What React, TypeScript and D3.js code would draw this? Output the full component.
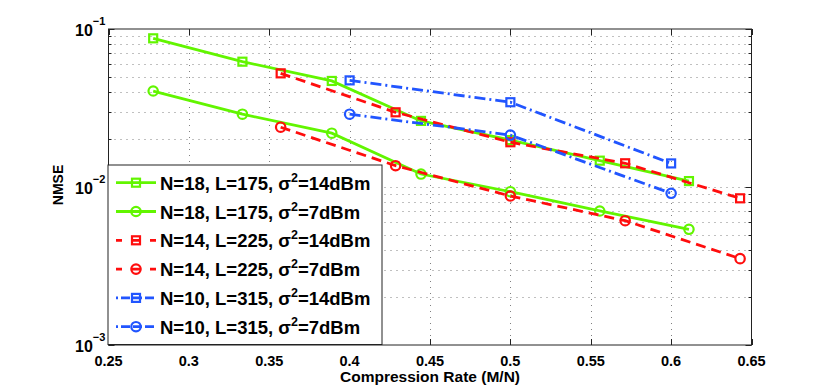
import React from "react";
import * as d3 from "d3";

const xTicks = [0.25, 0.3, 0.35, 0.4, 0.45, 0.5, 0.55, 0.6, 0.65];
const yDecades = [-3, -2, -1];

const rateN18 = [0.2778, 0.3333, 0.3889, 0.4444, 0.5, 0.5556, 0.6111];
const rateN14 = [0.3571, 0.4286, 0.5, 0.5714, 0.6429];
const rateN10 = [0.4, 0.5, 0.6];

const nmseN18_14 = [0.0873, 0.0621, 0.0469, 0.0262, 0.0198, 0.01468, 0.0109];
const nmseN18_7 = [0.0405, 0.0289, 0.0219, 0.01208, 0.00934, 0.00705, 0.0054];
const nmseN14_14 = [0.0524, 0.0297, 0.0192, 0.01413, 0.00848];
const nmseN14_7 = [0.0239, 0.01364, 0.00877, 0.00612, 0.00352];
const nmseN10_14 = [0.0473, 0.0344, 0.0141];
const nmseN10_7 = [0.0289, 0.0213, 0.00912];

const legendLabels = [
  ["N=18, L=175, ", "14dBm"],
  ["N=18, L=175, ", "7dBm"],
  ["N=14, L=225, ", "14dBm"],
  ["N=14, L=225, ", "7dBm"],
  ["N=10, L=315, ", "14dBm"],
  ["N=10, L=315, ", "7dBm"],
];

const GREEN = "#62f500";
const RED = "#ff0d0d";
const BLUE = "#2155ff";

type Series = {
  x: number[];
  y: number[];
  color: string;
  dash: string;
  marker: "square" | "circle";
};

const series: Series[] = [
  { x: rateN18, y: nmseN18_14, color: GREEN, dash: "none", marker: "square" },
  { x: rateN18, y: nmseN18_7, color: GREEN, dash: "none", marker: "circle" },
  { x: rateN14, y: nmseN14_14, color: RED, dash: "10 6", marker: "square" },
  { x: rateN14, y: nmseN14_7, color: RED, dash: "10 6", marker: "circle" },
  { x: rateN10, y: nmseN10_14, color: BLUE, dash: "11 4 2 4", marker: "square" },
  { x: rateN10, y: nmseN10_7, color: BLUE, dash: "11 4 2 4", marker: "circle" },
];

const L = 108.5, R = 751.5, T = 29, B = 345;
const FONT = "'Liberation Sans', Arial, Helvetica, sans-serif";

function Marker({ kind, cx, cy, color }: { kind: string; cx: number; cy: number; color: string }) {
  if (kind === "square") {
    return <rect x={cx - 4} y={cy - 4} width={8} height={8} fill="none" stroke={color} strokeWidth={2.2} />;
  }
  return <circle cx={cx} cy={cy} r={4.7} fill="none" stroke={color} strokeWidth={2.2} />;
}

export default function App() {
  const x = d3.scaleLinear().domain([0.25, 0.65]).range([L, R]);
  const y = d3.scaleLog().domain([1e-3, 1e-1]).range([B, T]);
  const line = d3
    .line<[number, number]>()
    .x((d) => x(d[0]))
    .y((d) => y(d[1]));

  const minorY: number[] = [];
  for (const e of [-3, -2]) {
    for (let k = 2; k <= 9; k++) minorY.push(k * Math.pow(10, e));
  }
  const gridY = [...minorY, 1e-2];
  const gridX = xTicks.slice(1, -1);

  const legX = 108, legY = 165, legW = 274, legH = 179.5;
  const rowY = (i: number) => 182.7 + i * 28.8;

  return (
    <svg
      width={830}
      height={389}
      style={{ position: "absolute", left: 0, top: 0, background: "#fff" }}
      fontFamily={FONT}
    >
      <rect x={0} y={0} width={830} height={389} fill="#fff" />
      {/* grid */}
      <g stroke="#808080" strokeWidth={1} strokeDasharray="1 5">
        {gridY.map((v, i) => (
          <line key={"gy" + i} x1={L} x2={R} y1={Math.round(y(v)) + 0.5} y2={Math.round(y(v)) + 0.5} />
        ))}
        {gridX.map((v, i) => (
          <line key={"gx" + i} x1={Math.round(x(v)) + 0.5} x2={Math.round(x(v)) + 0.5} y1={T} y2={B} />
        ))}
      </g>
      {/* ticks */}
      <g stroke="#222" strokeWidth={1}>
        {xTicks.map((v, i) => (
          <g key={"xt" + i}>
            <line x1={Math.round(x(v)) + 0.5} x2={Math.round(x(v)) + 0.5} y1={B} y2={B - 6} />
            <line x1={Math.round(x(v)) + 0.5} x2={Math.round(x(v)) + 0.5} y1={T} y2={T + 6} />
          </g>
        ))}
        {yDecades.map((e, i) => (
          <g key={"yt" + i}>
            <line x1={L} x2={L + 6} y1={Math.round(y(Math.pow(10, e))) + 0.5} y2={Math.round(y(Math.pow(10, e))) + 0.5} />
            <line x1={R} x2={R - 6} y1={Math.round(y(Math.pow(10, e))) + 0.5} y2={Math.round(y(Math.pow(10, e))) + 0.5} />
          </g>
        ))}
        {minorY.map((v, i) => (
          <g key={"ym" + i}>
            <line x1={L} x2={L + 3} y1={Math.round(y(v)) + 0.5} y2={Math.round(y(v)) + 0.5} />
            <line x1={R} x2={R - 3} y1={Math.round(y(v)) + 0.5} y2={Math.round(y(v)) + 0.5} />
          </g>
        ))}
      </g>
      {/* axes box */}
      <rect x={L} y={T} width={R - L} height={B - T} fill="none" stroke="#222" strokeWidth={1} />
      {/* series */}
      {series.map((s, si) => {
        const pts = s.x.map((xv, i) => [xv, s.y[i]] as [number, number]);
        return (
          <g key={"s" + si}>
            <path d={line(pts) || ""} fill="none" stroke={s.color} strokeWidth={2.8} strokeDasharray={s.dash} />
            {pts.map((p, i) => (
              <Marker key={i} kind={s.marker} cx={x(p[0])} cy={y(p[1])} color={s.color} />
            ))}
          </g>
        );
      })}
      {/* x tick labels */}
      <g fontSize={14.5} fontWeight="bold" fill="#000" textAnchor="middle">
        {xTicks.map((v, i) => (
          <text key={"xl" + i} x={x(v)} y={365.5}>
            {String(v)}
          </text>
        ))}
      </g>
      {/* y tick labels */}
      <g fontWeight="bold" fill="#000">
        {yDecades.map((e, i) => (
          <text key={"yl" + i} x={75} y={y(Math.pow(10, e)) + 6.5} fontSize={16}>
            10
            <tspan dy={-10.5} fontSize={11}>
              {"\u2212" + String(-e)}
            </tspan>
          </text>
        ))}
      </g>
      {/* axis labels */}
      <text x={(L + R) / 2} y={382} textAnchor="middle" fontSize={15.5} fontWeight="bold">
        Compression Rate (M/N)
      </text>
      <text
        transform={`translate(63,185) rotate(-90)`}
        textAnchor="middle"
        fontSize={14}
        fontWeight="bold"
      >
        NMSE
      </text>
      {/* legend */}
      <rect x={legX} y={legY} width={legW} height={legH} fill="#fff" stroke="#222" strokeWidth={1} />
      {series.map((s, i) => (
        <g key={"lg" + i}>
          <line
            x1={116}
            x2={156}
            y1={rowY(i)}
            y2={rowY(i)}
            stroke={s.color}
            strokeWidth={2.8}
            strokeDasharray={s.dash === "none" ? "none" : s.dash === "10 6" ? "6 10 8 10 6" : "2 3 9 3 9 3 9 3 2"}
          />
          <Marker kind={s.marker} cx={136} cy={rowY(i)} color={s.color} />
          <text x={160} y={rowY(i) + 7} fontSize={18.5} fontWeight="bold">
            {legendLabels[i][0]}
            {"\u03c3"}
            <tspan dy={-8} fontSize={12.5}>
              2
            </tspan>
            <tspan dy={8}>{"=" + legendLabels[i][1]}</tspan>
          </text>
        </g>
      ))}
    </svg>
  );
}
